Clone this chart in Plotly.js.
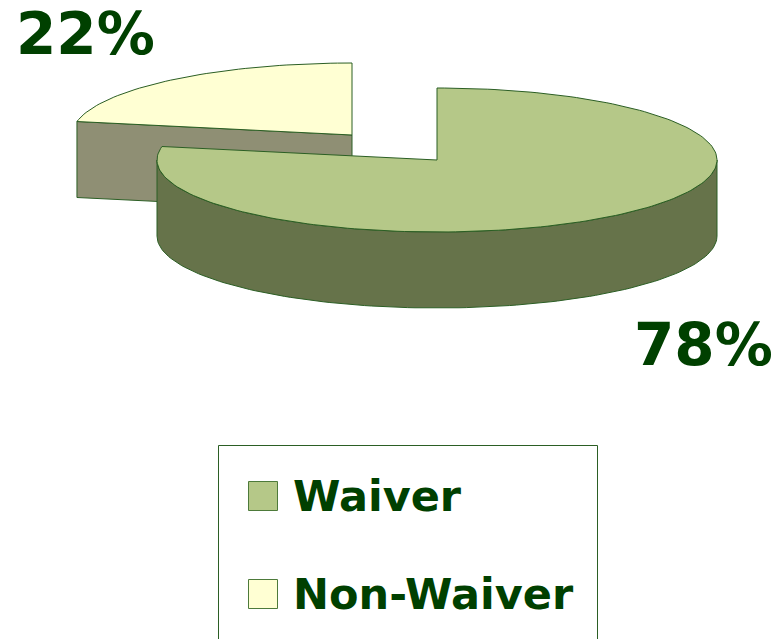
<!DOCTYPE html>
<html>
<head>
<meta charset="utf-8">
<script src="https://cdn.plot.ly/plotly-3.0.1.min.js"></script>
<style>html,body{margin:0;padding:0;background:#fff;}#chart{width:784px;height:639px;}</style>
</head>
<body>
<div id="chart"></div>
<script>
// ---- data ----
const categories = ['Waiver', 'Non-Waiver'];
const values = [78, 22];

// ---- style ----
const topColors = ['#b5c888', '#ffffd3'];
const sideColors = ['#66734a', '#8f8f74'];
const edgeColor = '#2b5e24';
const textColor = '#004000';
const FONT = 'DejaVu Sans, Verdana, sans-serif';

// 3D pie geometry (in plot units = pixels)
const geo = { cx: 437, cy: 160, rx: 280, ry: 72, depth: 76 };
const explode = [[0, 0], [-85, -25]];
const labelPos = [[703, 345], [85, 34]];

const total = values.reduce((a, b) => a + b, 0);
const rad = d => d * Math.PI / 180;
function pt(cx, cy, a, dz) {
  return [cx + geo.rx * Math.sin(rad(a)), cy - geo.ry * Math.cos(rad(a)) + (dz || 0)];
}
function arc(cx, cy, a0, a1, dz) {
  const n = Math.max(2, Math.ceil(Math.abs(a1 - a0) / 1.5));
  const out = [];
  for (let i = 0; i <= n; i++) out.push(pt(cx, cy, a0 + (a1 - a0) * i / n, dz));
  return out;
}
function poly(points, fill) {
  return {
    type: 'scatter', mode: 'lines', fill: 'toself', fillcolor: fill,
    x: points.map(p => p[0]), y: points.map(p => p[1]),
    line: { color: edgeColor, width: 1 }, hoverinfo: 'skip', showlegend: false
  };
}

// slice angles (clockwise from 12 o'clock)
const slices = [];
let acc = 0;
values.forEach((v, i) => {
  const a0 = acc / total * 360;
  acc += v;
  const a1 = acc / total * 360;
  slices.push({ i, a0, a1 });
});

const traces = [];
// draw back-most slices first
slices.slice().reverse().forEach(s => {
  const cx = geo.cx + explode[s.i][0];
  const cy = geo.cy + explode[s.i][1];
  const d = geo.depth;
  // start cut face
  if (Math.sin(rad(s.a0)) < -1e-6) {
    const e = pt(cx, cy, s.a0);
    traces.push(poly([[cx, cy], e, [e[0], e[1] + d], [cx, cy + d], [cx, cy]], sideColors[s.i]));
  }
  // end cut face
  if (Math.sin(rad(s.a1)) > 1e-6) {
    const e = pt(cx, cy, s.a1);
    traces.push(poly([[cx, cy], e, [e[0], e[1] + d], [cx, cy + d], [cx, cy]], sideColors[s.i]));
  }
  // outer front side
  const f0 = Math.max(s.a0, 90), f1 = Math.min(s.a1, 270);
  if (f1 > f0) {
    const upper = arc(cx, cy, f0, f1, 0);
    const lower = arc(cx, cy, f1, f0, d);
    traces.push(poly(upper.concat(lower, [upper[0]]), sideColors[s.i]));
  }
  // top face
  const top = [[cx, cy]].concat(arc(cx, cy, s.a0, s.a1, 0), [[cx, cy]]);
  traces.push(poly(top, topColors[s.i]));
});

// percentage labels
const annotations = values.map((v, i) => ({
  x: labelPos[i][0], y: labelPos[i][1], xref: 'x', yref: 'y',
  text: '<b>' + Math.round(v / total * 100) + '%</b>', showarrow: false,
  font: { family: FONT, size: 58, color: textColor }, xanchor: 'center', yanchor: 'middle'
}));

// legend (drawn as layout shapes + annotations)
const shapes = [{
  type: 'rect', xref: 'x', yref: 'y', x0: 218.5, x1: 597.5, y0: 445.5, y1: 700,
  line: { color: '#2b5e24', width: 1 }, fillcolor: 'rgba(0,0,0,0)'
}];
const legendRows = [496, 594];
categories.forEach((c, i) => {
  shapes.push({
    type: 'rect', xref: 'x', yref: 'y', x0: 248.5, x1: 277.5,
    y0: legendRows[i] - 14.5, y1: legendRows[i] + 14.5,
    line: { color: '#4d7a3a', width: 1 }, fillcolor: topColors[i]
  });
  annotations.push({
    x: 291, y: legendRows[i], xref: 'x', yref: 'y', text: '<b>' + c + '</b>',
    showarrow: false, xanchor: 'left', yanchor: 'middle',
    font: { family: FONT, size: 43, color: textColor }
  });
});

const layout = {
  width: 784, height: 639,
  margin: { l: 0, r: 0, t: 0, b: 0 },
  paper_bgcolor: '#ffffff', plot_bgcolor: '#ffffff',
  xaxis: { range: [0, 784], visible: false, fixedrange: true },
  yaxis: { range: [639, 0], visible: false, fixedrange: true },
  showlegend: false,
  shapes, annotations
};
Plotly.newPlot('chart', traces, layout, { staticPlot: true, displayModeBar: false });
</script>
</body>
</html>
